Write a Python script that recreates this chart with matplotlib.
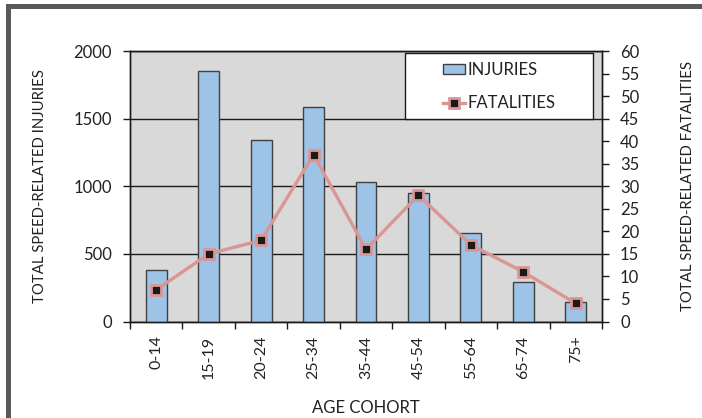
import matplotlib
matplotlib.use("Agg")
import matplotlib.pyplot as plt
from matplotlib.patches import Rectangle
import numpy as np

categories = ["0-14", "15-19", "20-24", "25-34", "35-44", "45-54", "55-64", "65-74", "75+"]
injuries = [383, 1852, 1341, 1583, 1035, 953, 652, 294, 146]
fatalities = [7, 15, 18, 37, 16, 28, 17, 11, 4]
left_ticks = [0, 500, 1000, 1500, 2000]
right_ticks = list(range(0, 61, 5))

plt.rcParams['font.family'] = ['Lato', 'DejaVu Sans']
txt = '#222222'

fig = plt.figure(figsize=(7.02, 4.18), dpi=100)
ax = fig.add_axes([130/702, (418-321.5)/418, 472/702, 270.5/418])
ax.set_facecolor('#d9d9d9')

x = np.arange(len(categories))
ax.bar(x, injuries, width=0.4, color='#9dc3e6', edgecolor='#404040', linewidth=1.0, zorder=3, label='INJURIES')
ax.set_xlim(-0.5, len(categories) - 0.5)
ax.set_ylim(0, 2000)
ax.set_yticks(left_ticks)
ax.set_yticklabels([str(v) for v in left_ticks], fontsize=12, color=txt)
ax.yaxis.grid(True, color='#1a1a1a', linewidth=1.0, zorder=1)
ax.set_axisbelow(True)
ax.set_xticks(x)
ax.set_xticklabels(categories, rotation=90, fontsize=11.5, color=txt)
ax.set_xticks(np.arange(-0.5, len(categories), 1), minor=True)
ax.tick_params(axis='x', which='major', length=0, pad=10)
ax.tick_params(axis='x', which='minor', length=5, width=1, color='#1a1a1a')
ax.tick_params(axis='y', length=5, width=1, color='#1a1a1a', pad=8)
for s in ax.spines.values():
    s.set_color('#1a1a1a')
    s.set_linewidth(1.0)
ax.set_ylabel('TOTAL SPEED-RELATED INJURIES', fontsize=10.7, color=txt, labelpad=19)
ax.set_xlabel('AGE COHORT', fontsize=12, color=txt, labelpad=15)

ax2 = ax.twinx()
ax2.plot(x, fatalities, color='#d99694', linewidth=2.4, marker='s', markersize=6.5,
         markerfacecolor='#1a1a1a', markeredgecolor='#d99694', markeredgewidth=2.0, zorder=4, label='FATALITIES')
ax2.set_ylim(0, 60)
ax2.set_yticks(right_ticks)
ax2.set_yticklabels([str(v) for v in right_ticks], fontsize=12, color=txt)
ax2.tick_params(axis='y', length=5, width=1, color='#1a1a1a', pad=8)
for s in ax2.spines.values():
    s.set_color('#1a1a1a')
    s.set_linewidth(1.0)
ax2.set_ylabel('TOTAL SPEED-RELATED FATALITIES', fontsize=10.7, color=txt, labelpad=30)

# legend frame
ax2.add_patch(Rectangle((0.583, 0.749), 0.398, 0.244, transform=ax2.transAxes,
                        facecolor='white', edgecolor='#1a1a1a', linewidth=1.0, zorder=5))
h1, l1 = ax.get_legend_handles_labels()
h2, l2 = ax2.get_legend_handles_labels()
leg = ax2.legend(h1 + h2, l1 + l2, loc='center', bbox_to_anchor=(0.782, 0.868),
                 fontsize=12, frameon=False, labelspacing=1.0, borderpad=0,
                 handlelength=1.35, handleheight=0.55, handletextpad=0.15, borderaxespad=0)
leg.set_zorder(6)
for t in leg.get_texts():
    t.set_color(txt)

# grey frame on top and left
fig.patches.append(Rectangle((6/702, 0), 5/702, (418-4)/418, transform=fig.transFigure,
                             facecolor='#595959', edgecolor='none'))
fig.patches.append(Rectangle((6/702, (418-9)/418), 1 - 6/702, 5/418, transform=fig.transFigure,
                             facecolor='#595959', edgecolor='none'))

fig.savefig('out.png', dpi=100)
